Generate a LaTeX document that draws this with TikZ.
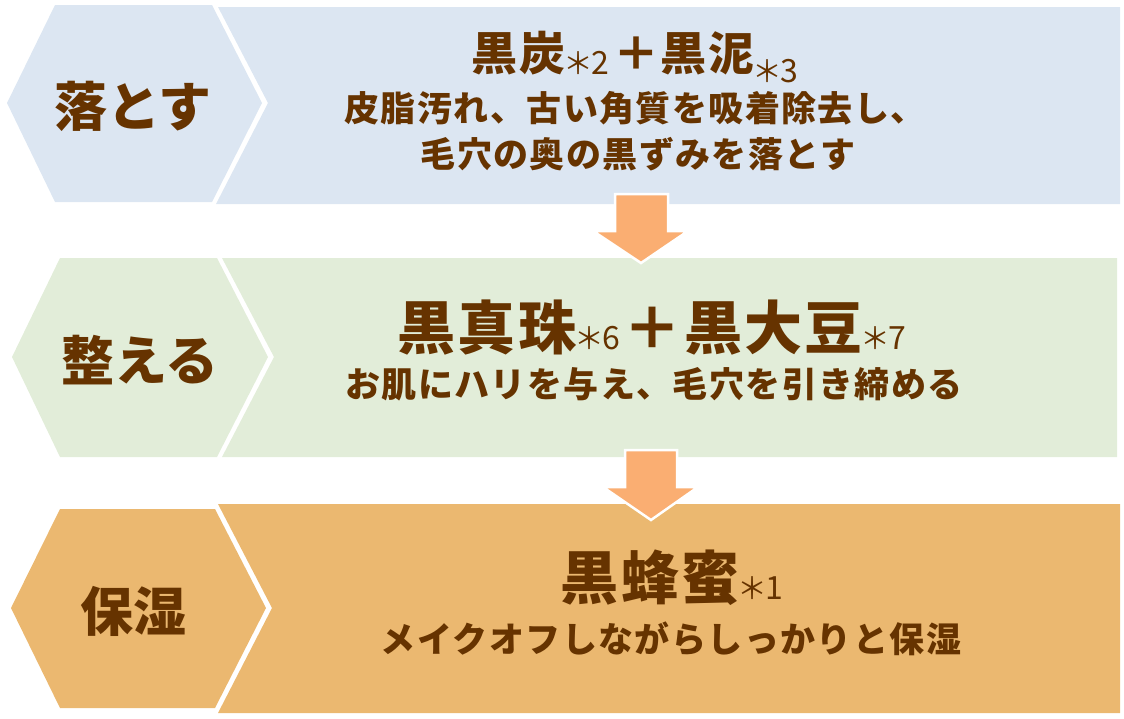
\documentclass[tikz,border=0pt]{standalone}
\usepackage{fontspec}
\newfontfamily\jp{Noto Sans CJK JP}
\newfontfamily\jpw{Noto Sans CJK JP}[LetterSpace=4]
\newfontfamily\jps{Noto Sans CJK JP}[LetterSpace=4]
\definecolor{cblue}{HTML}{DCE6F2}
\definecolor{cgreen}{HTML}{E2EDD9}
\definecolor{cgold}{HTML}{EBB870}
\definecolor{carrow}{HTML}{FAAE72}
\definecolor{ctext}{HTML}{663300}
\newcommand{\subs}[2][0pt]{\raisebox{#1}[\height][0pt]{\jp\mdseries\kern-2pt{\fontsize{30}{30}\selectfont ＊}\kern-2pt{\fontsize{32}{32}\selectfont #2}}}
\tikzset{
  lbl/.style={text=ctext, font=\jp\bfseries\fontsize{53}{53}\selectfont, inner sep=0pt, anchor=center},
  ttl/.style={text=ctext, inner sep=0pt, anchor=base},
  sub/.style={text=ctext, font=\jps\bfseries\fontsize{35}{35}\selectfont, inner sep=0pt, anchor=center},
  downarrow/.style={fill=carrow, draw=white, line width=2.5pt, line join=miter}
}
\begin{document}
\begin{tikzpicture}[x=1pt,y=-1pt]
\useasboundingbox (0,0) rectangle (1124,718);
% row 1
\fill[cblue] (7,103) -- (55,5) -- (212,5) -- (262,103) -- (212,202) -- (55,202) -- cycle;
\fill[cblue] (218,7) -- (1120,7) -- (1120,204) -- (216,204) -- (268,103) -- cycle;
% row 2
\fill[cgreen] (12,357) -- (60,258) -- (217,258) -- (268,357) -- (217,457) -- (60,457) -- cycle;
\fill[cgreen] (222,258) -- (1117,258) -- (1117,457) -- (222,457) -- (274,357) -- cycle;
% row 3
\fill[cgold] (11,608) -- (60,509) -- (215,509) -- (266,608) -- (215,708) -- (60,708) -- cycle;
\fill[cgold] (218,504) -- (1120,504) -- (1120,713) -- (218,713) -- (272,608) -- cycle;
% arrows
\draw[downarrow] (615,194) -- (668,194) -- (668,231) -- (688,231) -- (641,263) -- (593,231) -- (615,231) -- cycle;
\draw[downarrow] (625,450) -- (677,450) -- (677,487) -- (698,487) -- (651,520) -- (603,487) -- (625,487) -- cycle;
% labels
\node[lbl] (l1) at (133,106) {落とす};
\node[lbl] (l2) at (140,360) {整える};
\node[lbl] (l3) at (133,611) {保湿};
% row 1 text
\node[ttl, font=\jpw\bfseries\fontsize{46}{46}\selectfont] (t1) at (635,70) {黒炭\subs[-4pt]{2}\kern4pt＋黒泥\subs[-12pt]{3}};
\node[sub] (s1a) at (635,108) {皮脂汚れ、古い角質を吸着除去し、};
\node[sub] (s1b) at (638,154) {毛穴の奥の黒ずみを落とす};
% row 2 text
\node[ttl, font=\jpw\bfseries\fontsize{58}{58}\selectfont] (t2) at (652,349) {黒真珠\subs{6}\kern4pt＋黒大豆\subs{7}};
\node[sub] (s2) at (654,384) {お肌にハリを与え、毛穴を引き締める};
% row 3 text
\node[ttl, font=\jpw\bfseries\fontsize{58}{58}\selectfont] (t3) at (672,599) {黒蜂蜜\subs{1}};
\node[sub] (s3) at (671,639) {メイクオフしながらしっかりと保湿};
\end{tikzpicture}
\end{document}
